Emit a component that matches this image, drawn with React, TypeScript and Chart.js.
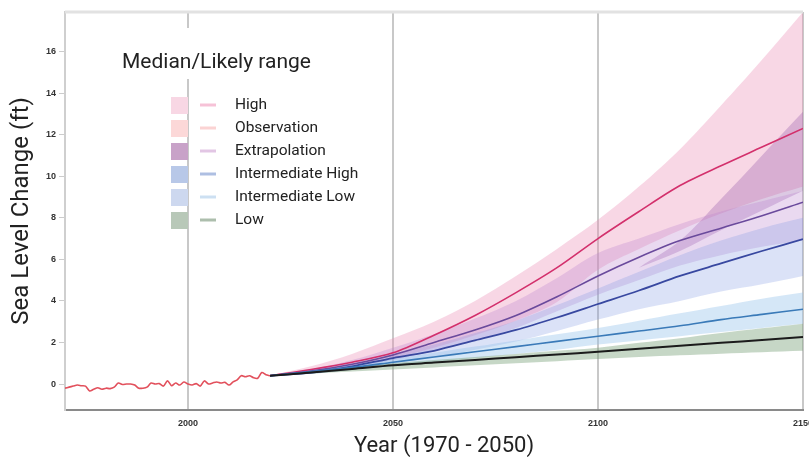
import React, { useEffect, useRef } from "react";
import { Chart, registerables } from "chart.js";

Chart.register(...registerables);

// ---------- data ----------
const obsYears = [
  1970, 1971, 1972, 1973, 1974, 1975, 1976, 1977, 1978, 1979,
  1980, 1981, 1982, 1983, 1984, 1985, 1986, 1987, 1988, 1989,
  1990, 1991, 1992, 1993, 1994, 1995, 1996, 1997, 1998, 1999,
  2000, 2001, 2002, 2003, 2004, 2005, 2006, 2007, 2008, 2009,
  2010, 2011, 2012, 2013, 2014, 2015, 2016, 2017, 2018, 2019, 2020,
];
const obsValues = [
  -0.2, -0.15, -0.1, -0.05, -0.08, -0.1, -0.33, -0.25, -0.18, -0.25,
  -0.2, -0.22, -0.15, 0.05, -0.02, 0.0, 0.0, -0.05, -0.2, -0.2,
  -0.15, 0.05, 0.0, 0.02, -0.1, 0.15, -0.08, 0.05, -0.05, 0.1,
  0.0, -0.05, 0.02, -0.1, 0.15, 0.0, 0.05, 0.1, 0.05, 0.08,
  -0.05, 0.1, 0.2, 0.4, 0.35, 0.4, 0.3, 0.28, 0.55, 0.45, 0.4,
];

const projYears = [2020, 2030, 2040, 2050, 2060, 2070, 2080, 2090, 2100, 2110, 2120, 2130, 2140, 2150];

const highMedian = [0.4, 0.7, 1.05, 1.5, 2.35, 3.3, 4.4, 5.6, 7.0, 8.3, 9.55, 10.5, 11.4, 12.3];
const intHighMedian = [0.4, 0.62, 0.95, 1.4, 2.0, 2.6, 3.3, 4.2, 5.2, 6.1, 6.9, 7.5, 8.1, 8.75];
const intermediateMedian = [0.4, 0.55, 0.85, 1.25, 1.6, 2.1, 2.6, 3.2, 3.85, 4.5, 5.2, 5.8, 6.4, 6.97];
const intLowMedian = [0.4, 0.6, 0.8, 1.05, 1.3, 1.55, 1.8, 2.05, 2.3, 2.55, 2.8, 3.1, 3.35, 3.6];
const lowMedian = [0.4, 0.55, 0.72, 0.9, 1.03, 1.16, 1.29, 1.42, 1.55, 1.7, 1.84, 1.98, 2.12, 2.26];

const highLower = [0.4, 0.6, 0.9, 1.25, 1.75, 2.35, 3.05, 3.95, 5.5, 6.5, 7.4, 8.2, 8.9, 9.5];
const highUpper = [0.4, 0.85, 1.45, 2.2, 3.0, 4.0, 5.2, 6.5, 7.9, 9.5, 11.3, 13.4, 15.6, 17.9];
const intHighLower = [0.4, 0.55, 0.8, 1.15, 1.6, 2.1, 2.7, 3.5, 4.3, 5.0, 5.7, 6.2, 6.6, 6.9];
const intHighUpper = [0.4, 0.7, 1.15, 1.75, 2.4, 3.15, 4.0, 5.1, 6.3, 7.0, 7.7, 8.3, 8.8, 9.3];
const intermediateLower = [0.4, 0.5, 0.7, 1.0, 1.3, 1.65, 2.05, 2.55, 3.1, 3.6, 4.0, 4.45, 4.8, 5.2];
const intermediateUpper = [0.4, 0.6, 0.95, 1.45, 1.9, 2.45, 3.05, 3.8, 4.6, 5.4, 6.2, 6.9, 7.5, 8.0];
const intLowLower = [0.4, 0.5, 0.68, 0.85, 1.05, 1.25, 1.45, 1.65, 1.9, 2.1, 2.3, 2.5, 2.7, 2.9];
const intLowUpper = [0.4, 0.65, 0.9, 1.2, 1.5, 1.8, 2.1, 2.4, 2.7, 3.05, 3.4, 3.75, 4.1, 4.4];
const lowLower = [0.4, 0.5, 0.6, 0.7, 0.8, 0.9, 1.0, 1.1, 1.2, 1.3, 1.38, 1.46, 1.53, 1.6];
const lowUpper = [0.4, 0.65, 0.82, 1.0, 1.15, 1.3, 1.45, 1.6, 1.75, 1.98, 2.2, 2.45, 2.68, 2.9];

const extrapYears = [2110, 2120, 2130, 2140, 2150];
const extrapLower = [5.6, 6.4, 7.4, 8.35, 9.3];
const extrapUpper = [5.6, 6.9, 8.9, 11.0, 13.1];

const xTicks = [2000, 2050, 2100, 2150];
const yTicks = [0, 2, 4, 6, 8, 10, 12, 14, 16];

const legendTitle = "Median/Likely range";
const legendLabels = ["High", "Observation", "Extrapolation", "Intermediate High", "Intermediate Low", "Low"];
const legendBoxColors = ["#f8d7e4", "#fcd8d8", "#c8a2c8", "#b8c8e8", "#cdd8ef", "#b8c8b8"];
const legendLineColors = ["#f6c2d7", "#fbd3d3", "#e2c6e4", "#aebfe2", "#cde0f2", "#adbead"];

const xTitle = "Year (1970 - 2050)";
const yTitle = "Sea Level Change (ft)";

// ---------- helpers ----------
const pts = (xs: number[], ys: number[]) => xs.map((x, i) => ({ x, y: ys[i] }));

function band(xs: number[], lo: number[], hi: number[], color: string) {
  return [
    { data: pts(xs, lo), borderWidth: 0, pointRadius: 0, fill: false, order: 2, tension: 0.35 },
    { data: pts(xs, hi), borderWidth: 0, pointRadius: 0, fill: "-1", backgroundColor: color, order: 2, tension: 0.35 },
  ];
}

function line(xs: number[], ys: number[], color: string, width = 1.6) {
  return { data: pts(xs, ys), borderColor: color, borderWidth: width, pointRadius: 0, fill: false, order: 0, tension: 0.3 };
}

const frameAndLegend = {
  id: "frameAndLegend",
  afterDraw(chart: any) {
    const { ctx, chartArea } = chart;
    ctx.save();
    ctx.strokeStyle = "#e2e2e2";
    ctx.lineWidth = 3;
    ctx.beginPath();
    ctx.moveTo(chartArea.left, chartArea.top);
    ctx.lineTo(chartArea.right, chartArea.top);
    ctx.stroke();

    // x axis title (slightly right of centre, as in the original)
    ctx.fillStyle = "#222";
    ctx.font = "22px Roboto";
    ctx.textAlign = "center";
    ctx.textBaseline = "middle";
    ctx.fillText(xTitle, (chartArea.left + chartArea.right) / 2 + 10, chart.height - 12);

    const L = chartArea.left;
    const T = chartArea.top;
    ctx.fillStyle = "#ffffff";
    ctx.fillRect(L + 30, T + 16, 235, 51);
    ctx.fillStyle = "#222";
    ctx.font = "21px Roboto";
    ctx.textAlign = "left";
    ctx.fillText(legendTitle, L + 57, T + 51);
    legendLabels.forEach((lab, i) => {
      const cy = T + 93 + i * 23;
      ctx.fillStyle = legendBoxColors[i];
      ctx.fillRect(L + 106, cy - 8, 17, 17);
      ctx.strokeStyle = legendLineColors[i];
      ctx.lineWidth = 3;
      ctx.beginPath();
      ctx.moveTo(L + 135, cy);
      ctx.lineTo(L + 151, cy);
      ctx.stroke();
      ctx.fillStyle = "#222";
      ctx.font = "15.5px Roboto";
      ctx.fillText(lab, L + 170, cy);
    });
    ctx.restore();
  },
};

export default function App() {
  const ref = useRef<HTMLCanvasElement | null>(null);

  useEffect(() => {
    if (!ref.current) return;
    const datasets: any[] = [
      line(obsYears, obsValues, "#e2505c", 1.6),
      line(projYears, lowMedian, "#1b1b1b", 2),
      line(projYears, intLowMedian, "#3a7ab8", 1.6),
      line(projYears, intermediateMedian, "#3848a0", 1.8),
      line(projYears, intHighMedian, "#6a4a9c", 1.6),
      line(projYears, highMedian, "#d3306c", 1.6),
      ...band(projYears, lowLower, lowUpper, "rgba(120,160,120,0.42)"),
      ...band(projYears, intLowLower, intLowUpper, "rgba(150,195,235,0.4)"),
      ...band(projYears, intermediateLower, intermediateUpper, "rgba(125,150,225,0.28)"),
      ...band(projYears, intHighLower, intHighUpper, "rgba(185,130,205,0.3)"),
      ...band(extrapYears, extrapLower, extrapUpper, "rgba(150,90,170,0.33)"),
      ...band(projYears, highLower, highUpper, "rgba(236,140,180,0.35)"),
    ];

    const chart = new Chart(ref.current, {
      type: "line",
      data: { datasets },
      plugins: [frameAndLegend],
      options: {
        animation: false,
        responsive: false,
        events: [],
        layout: { padding: { top: 12, right: 6, left: 0, bottom: 0 } },
        plugins: { legend: { display: false }, tooltip: { enabled: false } },
        scales: {
          x: {
            type: "linear",
            min: 1970,
            max: 2150,
            afterBuildTicks: (s: any) => {
              s.ticks = xTicks.map((v) => ({ value: v }));
            },
            afterFit: (s: any) => {
              s.height = 48;
              s.paddingLeft = 0;
              s.paddingRight = 0;
            },
            grid: { color: "#c8c8c8", lineWidth: 2, drawTicks: false },
            border: { color: "#8a8a8a", width: 2 },
            ticks: {
              padding: 8,
              maxRotation: 0,
              color: "#333",
              font: { family: "Liberation Sans", size: 9, weight: "bold" },
              callback: (v: any) => String(v),
            },
            title: { display: false },
          },
          y: {
            type: "linear",
            min: -1.25,
            max: 17.9,
            afterBuildTicks: (s: any) => {
              s.ticks = yTicks.map((v) => ({ value: v }));
            },
            afterFit: (s: any) => {
              s.width = 65;
              s.paddingTop = 0;
              s.paddingBottom = 0;
            },
            grid: { drawOnChartArea: false, drawTicks: true, tickLength: 6, color: "#cccccc", lineWidth: 1 },
            border: { color: "#cfcfcf", width: 2 },
            ticks: {
              padding: 3,
              color: "#333",
              font: { family: "Liberation Sans", size: 9, weight: "bold" },
              callback: (v: any) => String(v),
            },
            title: {
              display: true,
              text: yTitle,
              color: "#222",
              font: { family: "Roboto", size: 24 },
              padding: { top: 8, bottom: 0 },
            },
          },
        },
      } as any,
    });
    return () => chart.destroy();
  }, []);

  return (
    <div style={{ position: "absolute", left: 0, top: 0, width: 809, height: 458, background: "#fff" }}>
      <canvas ref={ref} width={809} height={458} />
    </div>
  );
}
